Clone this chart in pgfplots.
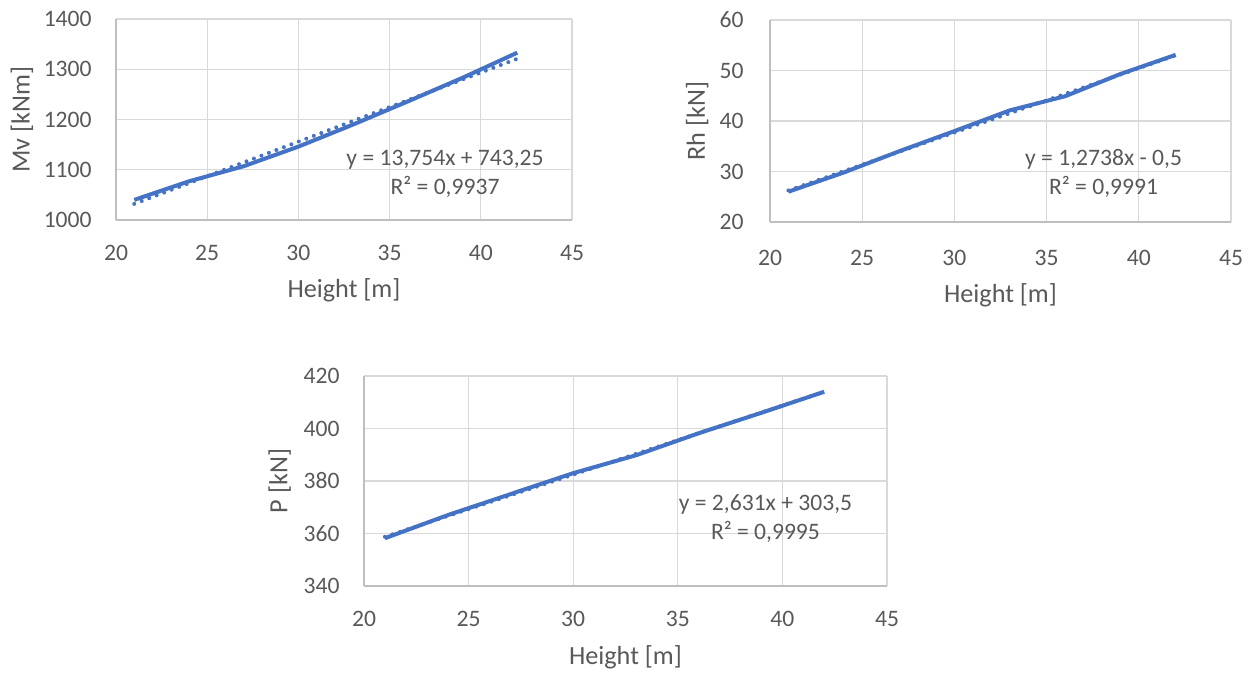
\documentclass[border=0pt]{standalone}
\usepackage{pgfplots}
\pgfplotsset{compat=1.18}
\usepackage{fontspec}
\setmainfont{Carlito}
\definecolor{exblue}{HTML}{4472C4}
\definecolor{txtgray}{HTML}{595959}
\definecolor{gridgray}{HTML}{D9D9D9}
\definecolor{axgray}{HTML}{BFBFBF}
\tikzset{eq/.style={align=center, font=\fontsize{11.8}{14.5}\selectfont, text=txtgray}}
\pgfplotsset{
  mystyle/.style={
    scale only axis,
    xmin=20, xmax=45, xtick={20,25,...,45},
    grid=major,
    major grid style={gridgray, line width=0.6pt},
    axis lines=left,
    axis line style={axgray, line width=0.7pt, -},
    major tick length=0pt,
    tick label style={font=\fontsize{11.8}{14}\selectfont, text=txtgray},
    label style={font=\fontsize{13.1}{15}\selectfont, text=txtgray},
    /pgf/number format/assume math mode=true,
    /pgf/number format/1000 sep={},
    yticklabel style={anchor=east, inner sep=0pt, xshift=-12pt},
    xticklabel style={anchor=north, inner sep=0pt, yshift=-12.5pt},
    clip=false,
  },
  ser/.style={exblue, line width=2pt, line join=round},
  trend/.style={exblue, line width=2pt, line cap=round, dash pattern=on 0pt off 4pt},
}
\begin{document}
\begin{tikzpicture}
\useasboundingbox (0,0) rectangle (627pt,-336.5pt);
% Plot 1
\begin{axis}[mystyle, at={(58pt,-110pt)}, anchor=south west,
  width=228pt, height=100.5pt,
  ymin=1000, ymax=1400, ytick={1000,1100,...,1400},
  xlabel={Height [m]}, ylabel={Mv [kNm]},
  xlabel style={at={(axis description cs:0.5,-0.348)}, anchor=center},
  ylabel style={at={(axis description cs:-0.206,0.5)}, anchor=center}]
\addplot[ser] coordinates {(21,1040) (24,1077) (27,1107) (30,1146) (33,1190) (36,1236) (39,1283) (42,1333)};
\addplot[trend] coordinates {(21,1032.08) (42,1320.92)};
\node[eq] at (axis cs:38.04,1092.5) {y = 13,754x + 743,25\\R² = 0,9937};
\end{axis}
% Plot 2
\begin{axis}[mystyle, at={(385pt,-111pt)}, anchor=south west,
  width=230.5pt, height=101pt,
  ymin=20, ymax=60, ytick={20,30,...,60},
  yticklabel style={xshift=-1pt},
  xticklabel style={yshift=-1.5pt},
  xlabel={Height [m]}, ylabel={Rh [kN]},
  xlabel style={at={(axis description cs:0.5,-0.361)}, anchor=center},
  ylabel style={at={(axis description cs:-0.158,0.5)}, anchor=center}]
\addplot[ser] coordinates {(21,26.0) (24,29.8) (27,34.0) (30,38.0) (33,42.1) (36,44.9) (39,49.3) (42,53.1)};
\addplot[trend] coordinates {(21,26.25) (42,53.0)};
\node[eq] at (axis cs:38.09,29.6) {y = 1,2738x - 0,5\\R² = 0,9991};
\end{axis}
% Plot 3
\begin{axis}[mystyle, at={(182pt,-293pt)}, anchor=south west,
  width=261.5pt, height=105pt,
  ymin=340, ymax=420, ytick={340,360,...,420},
  xlabel={Height [m]}, ylabel={P [kN]},
  xlabel style={at={(axis description cs:0.5,-0.338)}, anchor=center},
  ylabel style={at={(axis description cs:-0.161,0.5)}, anchor=center}]
\addplot[ser] coordinates {(21,358.2) (24,367) (27,375) (30,383) (33,389.8) (36,398.2) (39,406) (42,414)};
\addplot[trend] coordinates {(21,358.75) (42,414.0)};
\node[eq] at (axis cs:39.19,365.7) {y = 2,631x + 303,5\\R² = 0,9995};
\end{axis}
\end{tikzpicture}
\end{document}
